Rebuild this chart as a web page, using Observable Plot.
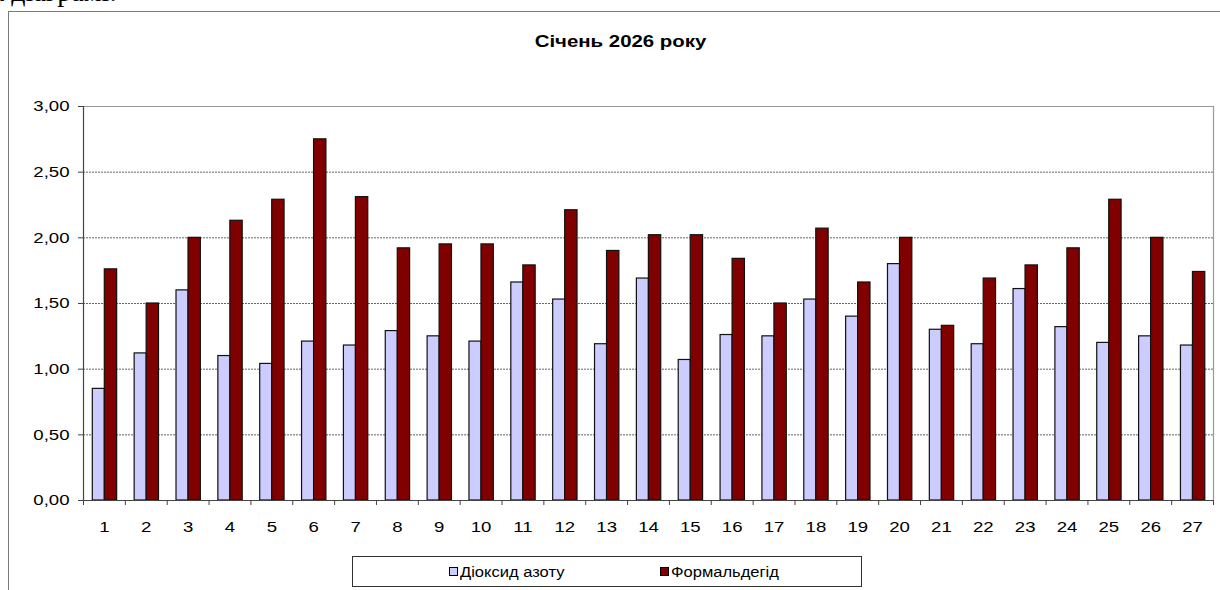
<!DOCTYPE html>
<html>
<head>
<meta charset="utf-8">
<script src="https://cdn.jsdelivr.net/npm/d3@7"></script>
<script src="https://cdn.jsdelivr.net/npm/@observablehq/plot@0.6"></script>
<style>
  html, body { margin: 0; padding: 0; background: #fff; }
  #page { position: relative; width: 1220px; height: 590px; overflow: hidden; background: #fff; font-family: "Liberation Sans", Arial, sans-serif; }
  #doctext { position: absolute; right: 1103px; top: -24px; font-family: "Liberation Serif", "Times New Roman", serif; font-size: 28px; line-height: 32px; color: #000; white-space: nowrap; }
  #frame { position: absolute; left: 8px; top: 11px; width: 1400px; height: 800px; border-left: 1px solid #7a7a7a; border-top: 1px solid #7a7a7a; }
  #title { position: absolute; left: 8px; width: 1226px; top: 32px; text-align: center; font-weight: bold; font-size: 17px; line-height: 20px; color: #000; }
  #title span { display: inline-block; transform: scaleX(1.2); }
  #chart { position: absolute; left: 0; top: 90px; }
  #legend { position: absolute; left: 352px; top: 556px; width: 508px; height: 29px; border: 1px solid #333; background: #fff; }
  .item { position: absolute; top: 0; height: 29px; display: flex; align-items: center; font-size: 14px; color: #000; white-space: nowrap; }
  .sw { width: 7px; height: 7px; border: 1px solid #000; margin-right: 2px; }
  .lbl { display: inline-block; transform: scaleX(1.18); transform-origin: left center; }
</style>
</head>
<body>
<div id="page">
  <div id="doctext">на діаграмі:</div>
  <div id="frame"></div>
  <div id="title"><span>Січень 2026 року</span></div>
  <div id="chart"></div>
  <div id="legend"></div>
</div>
<script>
const days = [1,2,3,4,5,6,7,8,9,10,11,12,13,14,15,16,17,18,19,20,21,22,23,24,25,26,27];
const no2 = [0.85,1.12,1.60,1.10,1.04,1.21,1.18,1.29,1.25,1.21,1.66,1.53,1.19,1.69,1.07,1.26,1.25,1.53,1.40,1.80,1.30,1.19,1.61,1.32,1.20,1.25,1.18];
const formaldehyde = [1.76,1.50,2.00,2.13,2.29,2.75,2.31,1.92,1.95,1.95,1.79,2.21,1.90,2.02,2.02,1.84,1.50,2.07,1.66,2.00,1.33,1.69,1.79,1.92,2.29,2.00,1.74];
const seriesNames = ["Діоксид азоту", "Формальдегід"];
const seriesColors = ["#CCCCFF", "#800000"];
const yTicks = [0, 0.5, 1, 1.5, 2, 2.5, 3];
const gridTicks = [0.5, 1, 1.5, 2, 2.5];

const rows = days.map((d, i) => ({day: d, no2: no2[i], hcho: formaldehyde[i]}));
const bounds = [0.5].concat(days.map(d => d + 0.5));
const fmt = v => v.toFixed(2).replace(".", ",");

const plot = Plot.plot({
  width: 1220,
  height: 450,
  marginLeft: 83,
  marginRight: 7,
  marginTop: 16,
  marginBottom: 40,
  style: {background: "none", fontFamily: "'Liberation Sans', Arial, sans-serif", fontSize: "15.5px", color: "#000"},
  x: {domain: [0.5, 27.5], axis: null},
  y: {domain: [0, 3], axis: null},
  marks: [
    Plot.ruleY(gridTicks, {stroke: "#666", strokeWidth: 1, strokeDasharray: "2,1", strokeOpacity: 1}),
    Plot.ruleY([3], {stroke: "#999", strokeWidth: 1.2}),
    Plot.ruleX([27.5], {stroke: "#999", strokeWidth: 1.2}),
    Plot.rectY(rows, {x1: d => d.day - 0.5, x2: d => d.day + 0.5, y: "no2", fill: seriesColors[0], stroke: "#111", strokeWidth: 1.2, insetLeft: 9.3, insetRight: 20.5}),
    Plot.rectY(rows, {x1: d => d.day - 0.5, x2: d => d.day + 0.5, y: "hcho", fill: seriesColors[1], stroke: "#111", strokeWidth: 1.2, insetLeft: 21.3, insetRight: 8.2}),
    Plot.ruleX([0.5], {stroke: "#444", strokeWidth: 1.2}),
    Plot.ruleY([0], {stroke: "#444", strokeWidth: 1.2}),
    Plot.axisY({ticks: yTicks, tickFormat: fmt, tickSize: 5, tickPadding: 9, stroke: "#444", label: null}),
    Plot.axisX({ticks: bounds, tickFormat: () => "", tickSize: 5, stroke: "#444", label: null}),
    Plot.axisX({ticks: days, tickFormat: d => String(d), tickSize: 0, tickPadding: 20, label: null})
  ]
});
document.getElementById("chart").appendChild(plot);

// horizontally stretch text glyphs like the original (stretched) picture
plot.querySelectorAll("text").forEach(t => {
  const tr = t.getAttribute("transform") || "";
  t.setAttribute("transform", tr + " scale(1.2,1)");
});

const legend = document.getElementById("legend");
const lefts = [96, 307];
seriesNames.forEach((name, i) => {
  const item = document.createElement("div");
  item.className = "item";
  item.style.left = lefts[i] + "px";
  const sw = document.createElement("div");
  sw.className = "sw";
  sw.style.background = seriesColors[i];
  const lb = document.createElement("span");
  lb.className = "lbl";
  lb.textContent = name;
  item.appendChild(sw);
  item.appendChild(lb);
  legend.appendChild(item);
});
</script>
</body>
</html>
